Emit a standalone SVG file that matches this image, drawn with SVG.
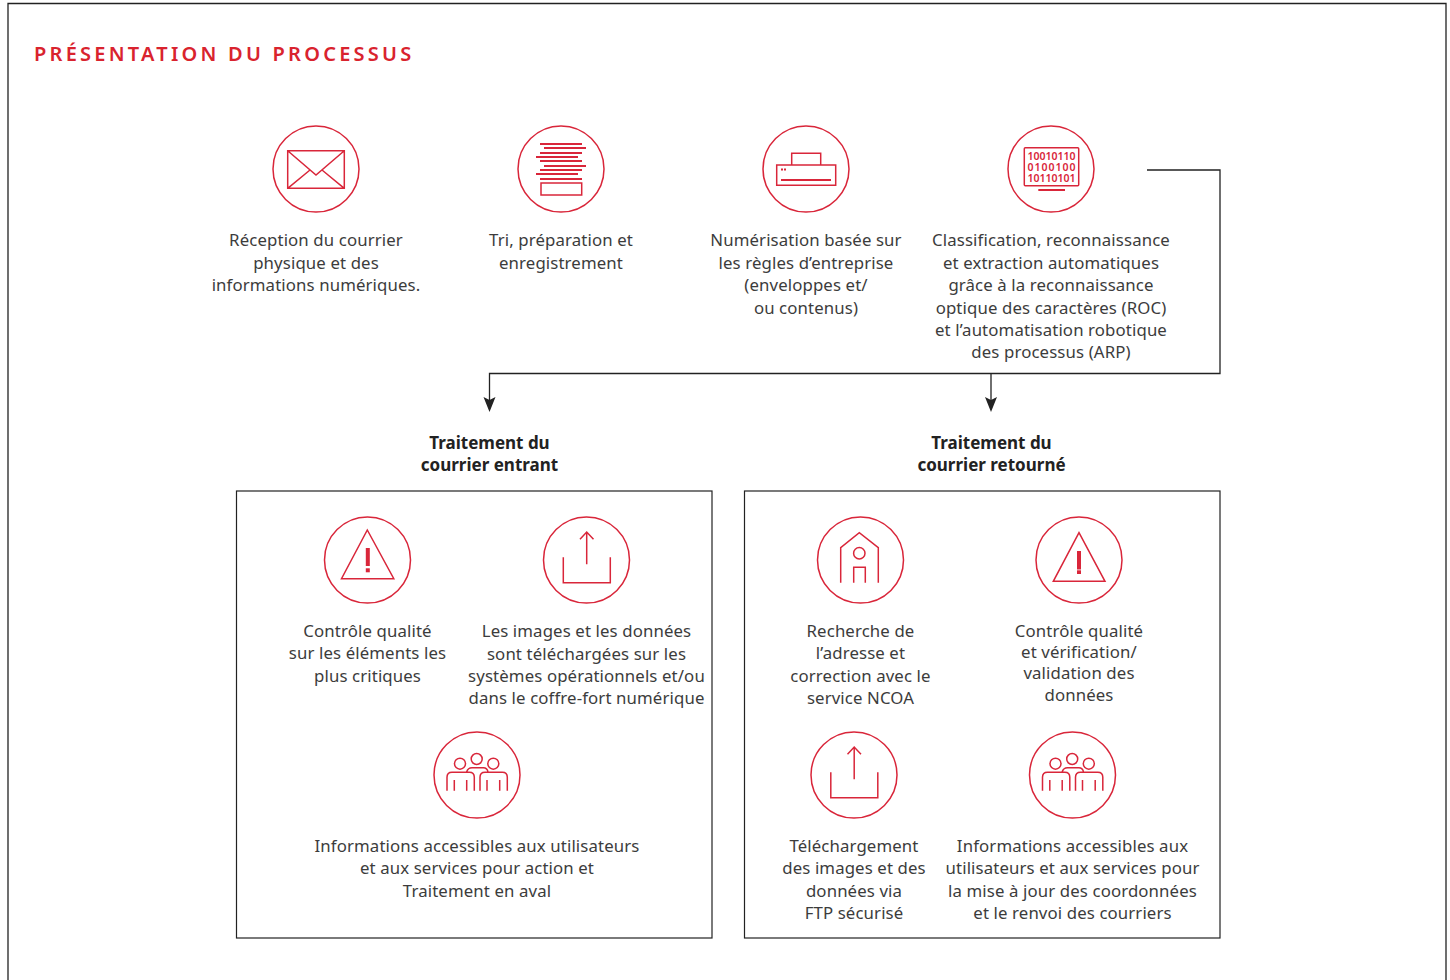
<svg xmlns="http://www.w3.org/2000/svg" width="1450" height="980" viewBox="0 0 1450 980">
<style>
text{font-family:"Noto Sans","Open Sans","DejaVu Sans",sans-serif;text-anchor:middle}
.t{font-size:16.8px;fill:#3c3c3c;letter-spacing:.12px}
.h{font-size:17px;font-weight:700;fill:#222}
.title{font-size:20px;font-weight:600;fill:#d9232e;letter-spacing:3.24px;text-anchor:start}
.r{fill:none;stroke:#d9263a;stroke-width:1.5}
.f{fill:#d9263a}
.bin{font-size:10.5px;font-weight:600;fill:#d9263a}
.box{fill:none;stroke:#222;stroke-width:1.2}
.c{fill:none;stroke:#222;stroke-width:1.3}
</style>
<defs>
<marker id="ah" markerUnits="userSpaceOnUse" markerWidth="14" markerHeight="18" refX="7" refY="9" orient="0" viewBox="0 0 14 18"><path d="M1 1 L7 4 L13 1 L7 16Z" fill="#222"/></marker>
<g id="warn"><circle class="r" r="43"/><path class="r" d="M-.2-30 L26.300 18.700 H-26 Z"/><rect class="f" x="-1.700" y="-12" width="4" height="18"/><rect class="f" x="-1.700" y="8.300" width="4" height="4"/></g>
<g id="up"><circle class="r" r="43"/><path class="r" d="M.2-28V4.300M-6.500-20.700 .2-28 7-20.700M-23.200-2.700V22.700H23.800V-2.700"/></g>
<g id="ppl"><circle class="r" r="43"/><circle class="r" cx="-.3" cy="-16" r="5.500"/><circle class="r" cx="-17" cy="-11.300" r="5.500"/><circle class="r" cx="16.300" cy="-11.300" r="5.500"/><path class="r" d="M-30 15.700V2.300Q-30-2.700-25-2.700H-7.700Q-2.700-2.700-2.700 2.300V15.700M3 15.700V2.300Q3-2.700 8-2.700H25.300Q30.300-2.700 30.300 2.300V15.700M-10.300-3.300Q-9-7.300-5-7.300H6.300Q10.300-7.300 11-3M-22.700 5V15.700M-10.300 5V15.700M10 5V15.700M22.700 5V15.700"/></g>
</defs>
<rect width="1450" height="980" fill="#fff"/>
<path d="M8 985V3.500H1446V985" fill="none" stroke="#222" stroke-width="1.300"/>
<text id="title" class="title" x="34" y="61">PRÉSENTATION DU PROCESSUS</text>
<g id="connectors">
<path class="c" d="M1147 170H1220V373.500H489.500V405" marker-end="url(#ah)"/>
<path class="c" d="M991 373.500V405" marker-end="url(#ah)"/>
</g>
<g id="n1"><g transform="translate(316 169)"><circle class="r" r="43"/><path class="r" d="M-28.300-18.300H28.300V19.300H-28.300ZM-28.300-18.300 0 6 28.300-18.300M-28.300 19.300-6 1M28.300 19.300 6 1"/></g>
<text class="t" x="316" y="246">Réception du courrier</text><text class="t" x="316" y="268.500">physique et des</text><text class="t" x="316" y="291">informations numériques.</text></g>
<g id="n2"><circle class="r" cx="561" cy="169" r="43"/><path d="M540 144H582M544 148H586M540 153H582M536 157H578M540 161H582M544 166H586M540 170H582M536 174H578M540 179H582" stroke="#d9263a" stroke-width="2" fill="none"/><rect class="r" x="541" y="183" width="40.700" height="12"/>
<text class="t" x="561" y="246">Tri, préparation et</text><text class="t" x="561" y="268.500">enregistrement</text></g>
<g id="n3"><circle class="r" cx="806" cy="169" r="43"/><path class="r" d="M776.700 165H835.700V185.300H776.700ZM791.700 165V153.300H820.700V165"/><path d="M781 180H831" stroke="#d9263a" stroke-width="2"/><rect class="f" x="781" y="168.500" width="2" height="2"/><rect class="f" x="784" y="168.500" width="2" height="2"/>
<text class="t" x="806" y="246">Numérisation basée sur</text><text class="t" x="806" y="268.500">les règles d’entreprise</text><text class="t" x="806" y="291">(enveloppes et/</text><text class="t" x="806" y="313.500">ou contenus)</text></g>
<g id="n4"><circle class="r" cx="1051" cy="169" r="43"/><rect class="r" x="1024.300" y="147.700" width="54.400" height="38" rx="1"/><text class="bin" x="1051.500" y="160" textLength="48">10010110</text><text class="bin" x="1051.500" y="171" textLength="48">0100100</text><text class="bin" x="1051.500" y="182" textLength="48">10110101</text><path d="M1038.300 190H1065" stroke="#d9263a" stroke-width="2"/>
<text class="t" x="1051" y="246">Classification, reconnaissance</text><text class="t" x="1051" y="268.500">et extraction automatiques</text><text class="t" x="1051" y="291">grâce à la reconnaissance</text><text class="t" x="1051" y="313.500">optique des caractères (ROC)</text><text class="t" x="1051" y="336">et l’automatisation robotique</text><text class="t" x="1051" y="358">des processus (ARP)</text></g>
<g id="inbound"><text class="h" x="489.500" y="449">Traitement du</text><text class="h" x="489.500" y="471">courrier entrant</text><rect class="box" x="236.500" y="491" width="475.500" height="447"/></g>
<g id="returned"><text class="h" x="991.500" y="449">Traitement du</text><text class="h" x="991.500" y="471">courrier retourné</text><rect class="box" x="744.500" y="491" width="475.500" height="447"/></g>
<g id="n5"><use href="#warn" x="367.500" y="560"/><text class="t" x="367.500" y="637">Contrôle qualité</text><text class="t" x="367.500" y="659">sur les éléments les</text><text class="t" x="367.500" y="682">plus critiques</text></g>
<g id="n6"><use href="#up" x="586.500" y="560"/><text class="t" x="586.500" y="637">Les images et les données</text><text class="t" x="586.500" y="660">sont téléchargées sur les</text><text class="t" x="586.500" y="682">systèmes opérationnels et/ou</text><text class="t" x="586.500" y="704">dans le coffre-fort numérique</text></g>
<g id="n7"><use href="#ppl" x="477" y="775"/><text class="t" x="477" y="852">Informations accessibles aux utilisateurs</text><text class="t" x="477" y="874">et aux services pour action et</text><text class="t" x="477" y="897">Traitement en aval</text></g>
<g id="n8"><circle class="r" cx="860.500" cy="560" r="43"/><path class="r" d="M840.700 582.700V547.700L859.300 532.700 878.300 547.700V582.700M853.700 582.700V567.300H865.300V582.700"/><circle class="r" cx="859.300" cy="553.300" r="5.700"/><text class="t" x="860.500" y="637">Recherche de</text><text class="t" x="860.500" y="659">l’adresse et</text><text class="t" x="860.500" y="682">correction avec le</text><text class="t" x="860.500" y="704">service NCOA</text></g>
<g id="n9"><circle class="r" cx="1079" cy="560" r="43"/><path class="r" d="M1079 532.700 1105 581.300H1053.300Z"/><rect class="f" x="1077" y="551" width="4" height="18.500"/><rect class="f" x="1077" y="570.300" width="4" height="3.700"/><text class="t" x="1079" y="637">Contrôle qualité</text><text class="t" x="1079" y="658">et vérification/</text><text class="t" x="1079" y="679">validation des</text><text class="t" x="1079" y="701">données</text></g>
<g id="n10"><use href="#up" x="854" y="775"/><text class="t" x="854" y="852">Téléchargement</text><text class="t" x="854" y="874">des images et des</text><text class="t" x="854" y="897">données via</text><text class="t" x="854" y="919">FTP sécurisé</text></g>
<g id="n11"><use href="#ppl" x="1072.500" y="775"/><text class="t" x="1072.500" y="852">Informations accessibles aux</text><text class="t" x="1072.500" y="874">utilisateurs et aux services pour</text><text class="t" x="1072.500" y="897">la mise à jour des coordonnées</text><text class="t" x="1072.500" y="919">et le renvoi des courriers</text></g>
</svg>
